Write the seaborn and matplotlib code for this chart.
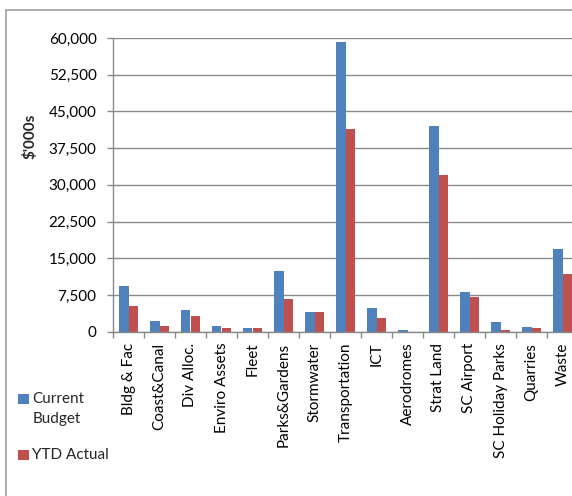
import matplotlib
matplotlib.use("Agg")
import matplotlib.pyplot as plt
import seaborn as sns
import pandas as pd
from matplotlib.ticker import FuncFormatter, FixedLocator
from matplotlib.patches import Rectangle
from matplotlib.lines import Line2D

categories = ["Bldg & Fac", "Coast&Canal", "Div Alloc.", "Enviro Assets", "Fleet",
              "Parks&Gardens", "Stormwater", "Transportation", "ICT", "Aerodromes",
              "Strat Land", "SC Airport", "SC Holiday Parks", "Quarries", "Waste"]
current_budget = [9340, 2190, 4370, 1160, 690, 12340, 4030, 59250, 4840, 350,
                  41950, 8180, 1900, 1020, 16840]
ytd_actual = [5190, 1160, 3200, 690, 690, 6680, 4030, 41340, 2870, 0,
              32000, 7150, 350, 690, 11730]
series_names = ["Current Budget", "YTD Actual"]
legend_labels = ["Current\nBudget", "YTD Actual"]
y_ticks = [0, 7500, 15000, 22500, 30000, 37500, 45000, 52500, 60000]

blue = "#4F81BD"
red = "#C0504D"
colors = [blue, red]

df = pd.DataFrame({
    "cat": categories * 2,
    "val": current_budget + ytd_actual,
    "series": [series_names[0]] * len(categories) + [series_names[1]] * len(categories),
})

sns.set_style("white")
plt.rcParams["font.family"] = ["Lato", "DejaVu Sans"]

W, H = 572, 496
fig = plt.figure(figsize=(W / 100, H / 100), dpi=100)
left, right, top, bottom = 113, 578, 38, 331.6
ax = fig.add_axes([left / W, 1 - bottom / H, (right - left) / W, (bottom - top) / H])

sns.barplot(data=df, x="cat", y="val", hue="series", order=categories,
            hue_order=series_names, palette=colors, width=0.6,
            saturation=1, ax=ax, legend=False, edgecolor="none", errorbar=None)

ax.set_xlim(-0.5, len(categories) - 0.5)
ax.set_ylim(0, 60000)
ax.yaxis.set_major_locator(FixedLocator(y_ticks))
ax.yaxis.set_major_formatter(FuncFormatter(lambda v, p: f"{int(v):,}"))
ax.grid(axis="y", color="#8a8a8a", linewidth=1.0)
ax.set_axisbelow(True)
for s in ["top", "right"]:
    ax.spines[s].set_visible(False)
for s in ["left", "bottom"]:
    ax.spines[s].set_color("#8a8a8a")
    ax.spines[s].set_linewidth(1.0)

ax.tick_params(axis="y", which="major", direction="out", length=4.3, width=1,
               color="#8a8a8a", labelsize=11, pad=7.5, labelcolor="black", left=True)
ax.xaxis.set_minor_locator(FixedLocator([i - 0.5 for i in range(len(categories) + 1)]))
ax.tick_params(axis="x", which="major", length=0, labelsize=11, pad=8,
               labelrotation=90, labelcolor="black")
ax.tick_params(axis="x", which="minor", direction="out", length=4.3, width=1,
               color="#8a8a8a", bottom=True)
for lbl in ax.get_xticklabels():
    lbl.set_verticalalignment("top")
    lbl.set_horizontalalignment("center")
ax.set_xlabel("")
ax.set_ylabel("")

fig.text(30 / W, 1 - 136 / H, "$'000s", rotation=90, fontsize=11, fontweight="bold",
         ha="center", va="center")

# legend (drawn at left below the plot, marker aligned with first text line)
legend_rows_y = [399, 455]  # pixel centre of first text line of each entry
for lab, col, yc in zip(legend_labels, colors, legend_rows_y):
    fig.add_artist(Rectangle((18 / W, 1 - (yc + 5) / H), 10.5 / W, 10.5 / H,
                             transform=fig.transFigure, facecolor=col, edgecolor="none"))
    fig.text(32.5 / W, 1 - (yc - 7) / H, lab, fontsize=11, ha="left", va="top",
             linespacing=1.55)

# outer chart border (left and top edges)
fig.add_artist(Line2D([5.5 / W, 5.5 / W], [0, 1 - 10 / H], transform=fig.transFigure,
                      color="#a6a6a6", linewidth=1.3))
fig.add_artist(Line2D([5.5 / W, 1.0], [1 - 10 / H, 1 - 10 / H], transform=fig.transFigure,
                      color="#a6a6a6", linewidth=1.3))

fig.savefig("out.png", dpi=100)
